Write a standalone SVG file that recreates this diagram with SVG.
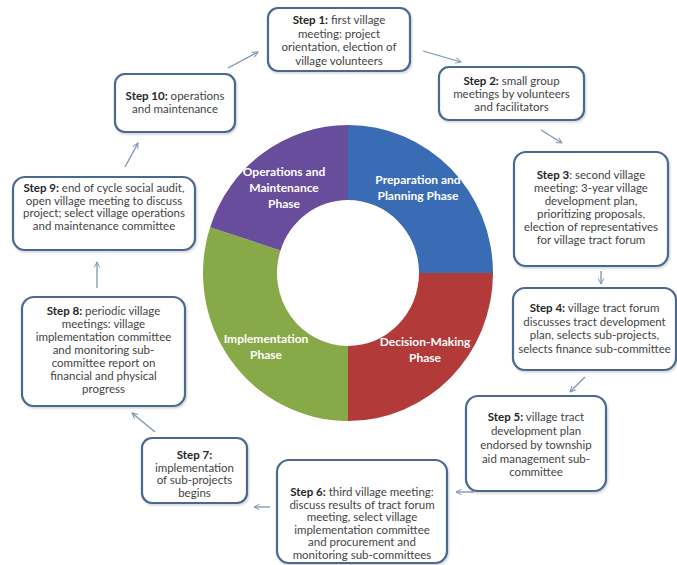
<svg xmlns="http://www.w3.org/2000/svg" width="677" height="565" viewBox="0 0 677 565">
  <defs>
    <style>
      .box { fill: #ffffff; stroke: #4a6892; stroke-width: 2.2; }
      .txt { font-family: Lato, "Open Sans", "Liberation Sans", sans-serif; font-size: 11.5px; fill: #444444; text-anchor: middle; }
      .txt .b { font-weight: bold; fill: #262626; }
      .phase { font-family: Lato, "Open Sans", "Liberation Sans", sans-serif; font-size: 12px; font-weight: bold; fill: #ffffff; text-anchor: middle; }
      .conn { fill: none; stroke: #7b93b4; stroke-width: 1.3; marker-end: url(#arrow); }
    </style>
    <marker id="arrow" viewBox="0 0 10 10" refX="9" refY="5" markerWidth="7" markerHeight="7" orient="auto" markerUnits="userSpaceOnUse">
      <path d="M1,1 L9,5 L1,9" fill="none" stroke="#7b93b4" stroke-width="1.4"/>
    </marker>
    <filter id="shadow" x="-10%" y="-10%" width="120%" height="125%">
      <feDropShadow dx="1" dy="1.5" stdDeviation="1.2" flood-color="#000000" flood-opacity="0.18"/>
    </filter>
  </defs>

  <rect width="677" height="565" fill="#ffffff"/>

  <!-- phase ring -->
  <g id="phase-ring">
    <path d="M348,125 A145,148 0 0 1 493,273 L419,273 A71,73 0 0 0 348,200 Z" fill="#3a6cb5"/>
    <path d="M493,273 A145,148 0 0 1 348,421 L348,346 A71,73 0 0 0 419,273 Z" fill="#b23a39"/>
    <path d="M348,421 A145,148 0 0 1 210.1,227.3 L280.5,250.4 A71,73 0 0 0 348,346 Z" fill="#88a947"/>
    <path d="M210.1,227.3 A145,148 0 0 1 348,125 L348,200 A71,73 0 0 0 280.5,250.4 Z" fill="#684d9c"/>
    <text class="phase" x="284" y="176">Operations and</text>
    <text class="phase" x="284" y="192">Maintenance</text>
    <text class="phase" x="284" y="208">Phase</text>
    <text class="phase" x="418" y="184">Preparation and</text>
    <text class="phase" x="418" y="200">Planning Phase</text>
    <text class="phase" x="266" y="343">Implementation</text>
    <text class="phase" x="266" y="359">Phase</text>
    <text class="phase" x="425" y="346">Decision-Making</text>
    <text class="phase" x="425" y="362">Phase</text>
  </g>

  <!-- connectors -->
  <g id="connectors">
    <line class="conn" x1="228" y1="68" x2="258" y2="52"/>
    <line class="conn" x1="423" y1="51" x2="461" y2="62"/>
    <line class="conn" x1="541" y1="130" x2="562" y2="143"/>
    <line class="conn" x1="601" y1="271" x2="601" y2="284"/>
    <line class="conn" x1="585" y1="377" x2="570" y2="392"/>
    <line class="conn" x1="474" y1="492" x2="456" y2="492"/>
    <line class="conn" x1="270" y1="507" x2="254" y2="507"/>
    <line class="conn" x1="155" y1="432" x2="132" y2="413"/>
    <line class="conn" x1="97" y1="288" x2="97" y2="262"/>
    <line class="conn" x1="125" y1="167" x2="138" y2="143"/>
  </g>

  <!-- steps -->
  <g id="step1">
    <rect class="box" x="268" y="8" width="142" height="63" rx="10" filter="url(#shadow)"/>
    <text class="txt"><tspan x="339" y="24"><tspan class="b">Step 1:</tspan> first village</tspan><tspan x="339" y="37.5">meeting: project</tspan><tspan x="339" y="51">orientation, election of</tspan><tspan x="339" y="64.5">village volunteers</tspan></text>
  </g>

  <g id="step2">
    <rect class="box" x="439" y="67" width="145" height="53" rx="10" filter="url(#shadow)"/>
    <text class="txt"><tspan x="511.5" y="85"><tspan class="b">Step 2:</tspan> small group</tspan><tspan x="511.5" y="98">meetings by volunteers</tspan><tspan x="511.5" y="111">and facilitators</tspan></text>
  </g>

  <g id="step3">
    <rect class="box" x="514" y="152" width="154" height="114" rx="12" filter="url(#shadow)"/>
    <text class="txt"><tspan x="591" y="179"><tspan class="b">Step 3</tspan>: second village</tspan><tspan x="591" y="192">meeting: 3-year village</tspan><tspan x="591" y="205">development plan,</tspan><tspan x="591" y="218">prioritizing proposals,</tspan><tspan x="591" y="231">election of representatives</tspan><tspan x="591" y="244">for village tract forum</tspan></text>
  </g>

  <g id="step4">
    <rect class="box" x="513" y="288" width="163" height="82" rx="12" filter="url(#shadow)"/>
    <text class="txt"><tspan x="594.5" y="312"><tspan class="b">Step 4:</tspan> village tract forum</tspan><tspan x="594.5" y="325.5">discusses tract development</tspan><tspan x="594.5" y="339">plan, selects sub-projects,</tspan><tspan x="594.5" y="352.5">selects finance sub-committee</tspan></text>
  </g>

  <g id="step5">
    <rect class="box" x="466" y="396" width="140" height="95" rx="12" filter="url(#shadow)"/>
    <text class="txt"><tspan x="536" y="421"><tspan class="b">Step 5:</tspan> village tract</tspan><tspan x="536" y="435">development plan</tspan><tspan x="536" y="449">endorsed by township</tspan><tspan x="536" y="463">aid management sub-</tspan><tspan x="536" y="476">committee</tspan></text>
  </g>

  <g id="step6">
    <rect class="box" x="277" y="460" width="170" height="103" rx="12" filter="url(#shadow)"/>
    <text class="txt"><tspan x="362" y="496"><tspan class="b">Step 6:</tspan> third village meeting:</tspan><tspan x="362" y="508.5">discuss results of tract forum</tspan><tspan x="362" y="521">meeting, select village</tspan><tspan x="362" y="533.5">implementation committee</tspan><tspan x="362" y="546">and procurement and</tspan><tspan x="362" y="558.5">monitoring sub-committees</tspan></text>
  </g>

  <g id="step7">
    <rect class="box" x="142" y="438" width="105" height="65" rx="10" filter="url(#shadow)"/>
    <text class="txt"><tspan class="b" x="194.5" y="459">Step 7:</tspan><tspan x="194.5" y="471.5">implementation</tspan><tspan x="194.5" y="484">of sub-projects</tspan><tspan x="194.5" y="496.5">begins</tspan></text>
  </g>

  <g id="step8">
    <rect class="box" x="22" y="297" width="163" height="109" rx="12" filter="url(#shadow)"/>
    <text class="txt"><tspan x="103.5" y="315"><tspan class="b">Step 8:</tspan> periodic village</tspan><tspan x="103.5" y="328">meetings: village</tspan><tspan x="103.5" y="341">implementation committee</tspan><tspan x="103.5" y="354">and monitoring sub-</tspan><tspan x="103.5" y="367">committee report on</tspan><tspan x="103.5" y="380">financial and physical</tspan><tspan x="103.5" y="393">progress</tspan></text>
  </g>

  <g id="step9">
    <rect class="box" x="13" y="177" width="182" height="73" rx="12" filter="url(#shadow)"/>
    <text class="txt"><tspan x="104" y="192"><tspan class="b">Step 9:</tspan>  end of cycle social audit,</tspan><tspan x="104" y="204.5">open village meeting to discuss</tspan><tspan x="104" y="217">project; select village operations</tspan><tspan x="104" y="229.5">and maintenance committee</tspan></text>
  </g>

  <g id="step10">
    <rect class="box" x="115" y="74" width="120" height="58" rx="10" filter="url(#shadow)"/>
    <text class="txt"><tspan x="175" y="100"><tspan class="b">Step 10:</tspan> operations</tspan><tspan x="175" y="113">and maintenance</tspan></text>
  </g>
</svg>
